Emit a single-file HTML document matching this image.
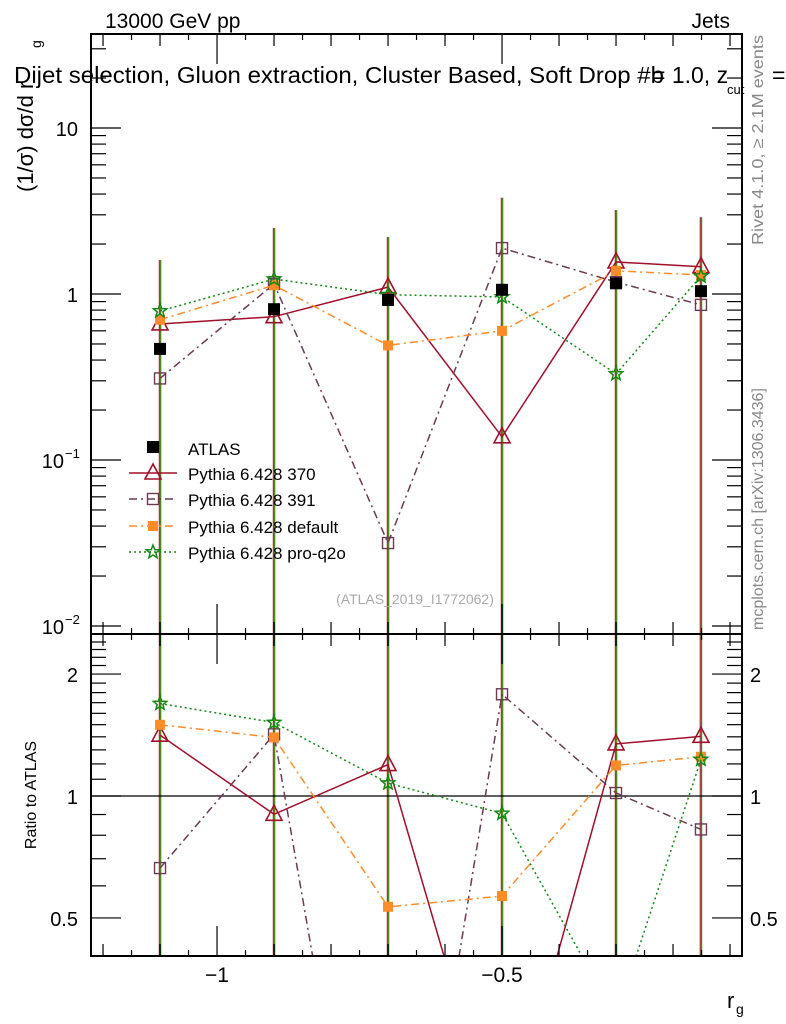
<!DOCTYPE html>
<html><head><meta charset="utf-8"><style>
html,body{margin:0;padding:0;background:#fff;width:786px;height:1024px;overflow:hidden;}
svg{display:block;font-family:"Liberation Sans",sans-serif;}
</style></head><body>
<svg id="c" width="786" height="1024" viewBox="0 0 786 1024"></svg>
<script>
const xCenters=[-1.1,-0.9,-0.7,-0.5,-0.3,-0.151];
const atlas=[0.467,0.81,0.92,1.06,1.16,1.04];
const p370=[0.66,0.73,1.10,0.138,1.56,1.46];
const p391=[0.31,1.15,0.0316,1.89,1.18,0.86];
const pdef=[0.70,1.13,0.49,0.60,1.38,1.30];
const pq2o=[0.79,1.23,0.99,0.96,0.33,1.28];
const errTop=[1.6,2.5,2.2,3.8,3.2,2.9];
const xTicks=[-1,-0.5];
const xTickLabels=["\u22121","\u22120.5"];
const yTicks=[0.01,0.1,1,10];
const yTickLabels=["10","10","1","10"];
const yTickExp=["\u22122","\u22121","",""];
const rTicks=[0.5,1,2];
const rTickLabels=["0.5","1","2"];

const NS="http://www.w3.org/2000/svg";
const svg=document.getElementById('c');
const L=91,R=742,T=34,MB=634,RB=956;
function X(v){return L+(v-(-1.2211))*570;}
function Y(v){return 294-Math.log10(v)*166;}
function YR(v){return 796-Math.log10(v)*405;}
function mk(tag,attrs,parent){const e=document.createElementNS(NS,tag);for(const k in attrs)e.setAttribute(k,attrs[k]);(parent||svg).appendChild(e);return e;}
function txt(s,attrs,parent){const e=mk('text',attrs,parent);e.textContent=s;return e;}

const defs=mk('defs',{});
const c1=mk('clipPath',{id:'cm'},defs);mk('rect',{x:L,y:T,width:R-L,height:MB-T},c1);
const c2=mk('clipPath',{id:'cr'},defs);mk('rect',{x:L,y:MB,width:R-L,height:RB-MB},c2);

const series=[
 {name:'p370',vals:p370,color:'#a0102a',dash:'',marker:'tri',label:'Pythia 6.428 370'},
 {name:'p391',vals:p391,color:'#6b3a53',dash:'8,4,2,4',marker:'sq',label:'Pythia 6.428 391'},
 {name:'pdef',vals:pdef,color:'#ff8c2a',dash:'8,4,2,4',marker:'fsq',label:'Pythia 6.428 default'},
 {name:'pq2o',vals:pq2o,color:'#118811',dash:'2,3',marker:'star',label:'Pythia 6.428 pro-q2o'}
];
function marker(type,x,y,color,g){
 let e;
 if(type==='tri'){e=mk('polygon',{points:`${x},${y-9} ${x-8},${y+6} ${x+8},${y+6}`,fill:'none',stroke:color,'stroke-width':1.6},g);}
 else if(type==='sq'){e=mk('rect',{x:x-5.5,y:y-5.5,width:11,height:11,fill:'none',stroke:color,'stroke-width':1.4},g);}
 else if(type==='fsq'){e=mk('rect',{x:x-5,y:y-5,width:10,height:10,fill:color},g);}
 else if(type==='star'){let p=[];for(let i=0;i<10;i++){const r=i%2?3:7;const a=-Math.PI/2+i*Math.PI/5;p.push((x+r*Math.cos(a)).toFixed(1)+','+(y+r*Math.sin(a)).toFixed(1));}
  e=mk('polygon',{points:p.join(' '),fill:'none',stroke:color,'stroke-width':1.5},g);}
 else {e=mk('rect',{x:x-6,y:y-6,width:12,height:12,fill:'#000'},g);}
 return e;
}

const gm=mk('g',{'clip-path':'url(#cm)'});


xCenters.forEach((xc,i)=>{
 series.forEach((s,k)=>{
  const l=mk('line',{x1:X(xc)+k*0.5-0.75,x2:X(xc)+k*0.5-0.75,y1:Y(errTop[i]),y2:MB,stroke:s.color,'stroke-width':1},gm);
  
  
 });
});
series.forEach(s=>{
 const g=mk('g',{},gm);
 
 
 mk('polyline',{points:xCenters.map((xc,i)=>X(xc)+','+Y(s.vals[i])).join(' '),fill:'none',stroke:s.color,'stroke-width':1.5,'stroke-dasharray':s.dash},g);
 xCenters.forEach((xc,i)=>{const m=marker(s.marker,X(xc),Y(s.vals[i]),s.color,g);
  
  });
});
const ga=mk('g',{},gm);


xCenters.forEach((xc,i)=>{const m=marker('data',X(xc),Y(atlas[i]),'#000',ga);
 
 });

const gr=mk('g',{'clip-path':'url(#cr)'});


xCenters.forEach((xc,i)=>{
 series.forEach((s,k)=>{
  mk('line',{x1:X(xc)+k*0.5-0.75,x2:X(xc)+k*0.5-0.75,y1:MB,y2:RB,stroke:s.color,'stroke-width':1},gr);
 });
});
mk('line',{x1:L,x2:R,y1:YR(1),y2:YR(1),stroke:'#000','stroke-width':1.2},gr);
series.forEach(s=>{
 const g=mk('g',{},gr);
 
 
 const r=s.vals.map((v,i)=>v/atlas[i]);
 mk('polyline',{points:xCenters.map((xc,i)=>X(xc)+','+YR(r[i])).join(' '),fill:'none',stroke:s.color,'stroke-width':1.5,'stroke-dasharray':s.dash},g);
 xCenters.forEach((xc,i)=>{const m=marker(s.marker,X(xc),YR(r[i]),s.color,g);
  
  });
});

const f1=mk('rect',{x:L,y:T,width:R-L,height:MB-T,fill:'none',stroke:'#000','stroke-width':2});

const f2=mk('rect',{x:L,y:MB,width:R-L,height:RB-MB,fill:'none',stroke:'#000','stroke-width':2});


const tg=mk('g',{stroke:'#000','stroke-width':1.2});

for(let k=-24;k<=-1;k++){const v=k*0.05;const x=X(v);if(x<L+1||x>R-1)continue;
 const big=Math.abs(v*2-Math.round(v*2))<1e-6;const mid=Math.abs(v*10-Math.round(v*10))<1e-6;
 const len=big?30:(mid?12:6);
 [MB,RB].forEach(b=>mk('line',{x1:x,x2:x,y1:b,y2:b-len},tg));
 [T,MB].forEach(t=>mk('line',{x1:x,x2:x,y1:t,y2:t+len},tg));
}
for(let d=-3;d<=1;d++){for(let m=1;m<10;m++){const v=m*Math.pow(10,d);const y=Y(v);if(y<T||y>MB)continue;
 const len=m===1?30:15;
 mk('line',{x1:L,x2:L+len,y1:y,y2:y},tg);mk('line',{x1:R,x2:R-len,y1:y,y2:y},tg);}}
for(let v=0.4;v<=2.5;v+=0.1){const vv=Math.round(v*10)/10;const y=YR(vv);if(y<MB||y>RB)continue;
 const big=(vv===0.5||vv===1||vv===2);const len=big?30:15;
 mk('line',{x1:L,x2:L+len,y1:y,y2:y},tg);mk('line',{x1:R,x2:R-len,y1:y,y2:y},tg);}

xTicks.forEach((v,i)=>{const t=txt(xTickLabels[i],{x:X(v),y:982,'font-size':21,'text-anchor':'middle'});
 });
yTicks.forEach((v,i)=>{const t=txt(yTickLabels[i],{x:yTickExp[i]?64:78,y:Y(v)+8,'font-size':20,'text-anchor':'end'});
 
 if(yTickExp[i]){const e=txt(yTickExp[i],{x:65,y:Y(v)-2,'font-size':13});
  }});
rTicks.forEach((v,i)=>{
 const a=txt(rTickLabels[i],{x:78,y:YR(v)+8,'font-size':20,'text-anchor':'end'});
 
 const b=txt(rTickLabels[i],{x:750,y:YR(v)+8,'font-size':20});
 });

let t;
t=txt('13000 GeV pp',{x:105,y:28,'font-size':21});
t=txt('Jets',{x:730,y:28,'font-size':21,'text-anchor':'end'});
t=txt('Dijet selection, Gluon extraction, Cluster Based, Soft Drop #b',{x:14,y:83,'font-size':23,textLength:650,lengthAdjust:'spacingAndGlyphs'});
t=txt('= 1.0, z',{x:652,y:83,'font-size':23});
t=txt('cut',{x:727,y:94,'font-size':13});
t=txt('=',{x:772,y:83,'font-size':23});
t=txt('(1/σ) dσ/d r',{x:0,y:0,'font-size':22,transform:'translate(33,192) rotate(-90)'});
t=txt('g',{x:0,y:0,'font-size':14,transform:'translate(41,48) rotate(-90)'});
t=txt('Ratio to ATLAS',{x:0,y:0,'font-size':16,'text-anchor':'middle',transform:'translate(36,795) rotate(-90)'});
t=txt('r',{x:727,y:1008,'font-size':22});
t=txt('g',{x:736,y:1014,'font-size':14});
t=txt('Rivet 4.1.0, ≥ 2.1M events',{x:0,y:0,'font-size':16,fill:'#888','text-anchor':'end',transform:'translate(763,35) rotate(-90)',textLength:210,lengthAdjust:'spacingAndGlyphs'});
t=txt('mcplots.cern.ch [arXiv:1306.3436]',{x:0,y:0,'font-size':16,fill:'#888',transform:'translate(763,630) rotate(-90)'});
t=txt('(ATLAS_2019_I1772062)',{x:415,y:604,'font-size':14,fill:'#aaa','text-anchor':'middle'});

const lg=mk('g',{});

const ly=[447,473,499,526,552];
marker('data',153,ly[0],'#000',lg);
t=txt('ATLAS',{x:188,y:ly[0]+8,'font-size':17},lg);
series.forEach((s,i)=>{const y=ly[i+1];
 mk('line',{x1:129,x2:177,y1:y,y2:y,stroke:s.color,'stroke-width':1.5,'stroke-dasharray':s.dash},lg);
 marker(s.marker,153,y,s.color,lg);
 const tt=txt(s.label,{x:188,y:y+7,'font-size':17},lg);
 });
</script>
</body></html>
